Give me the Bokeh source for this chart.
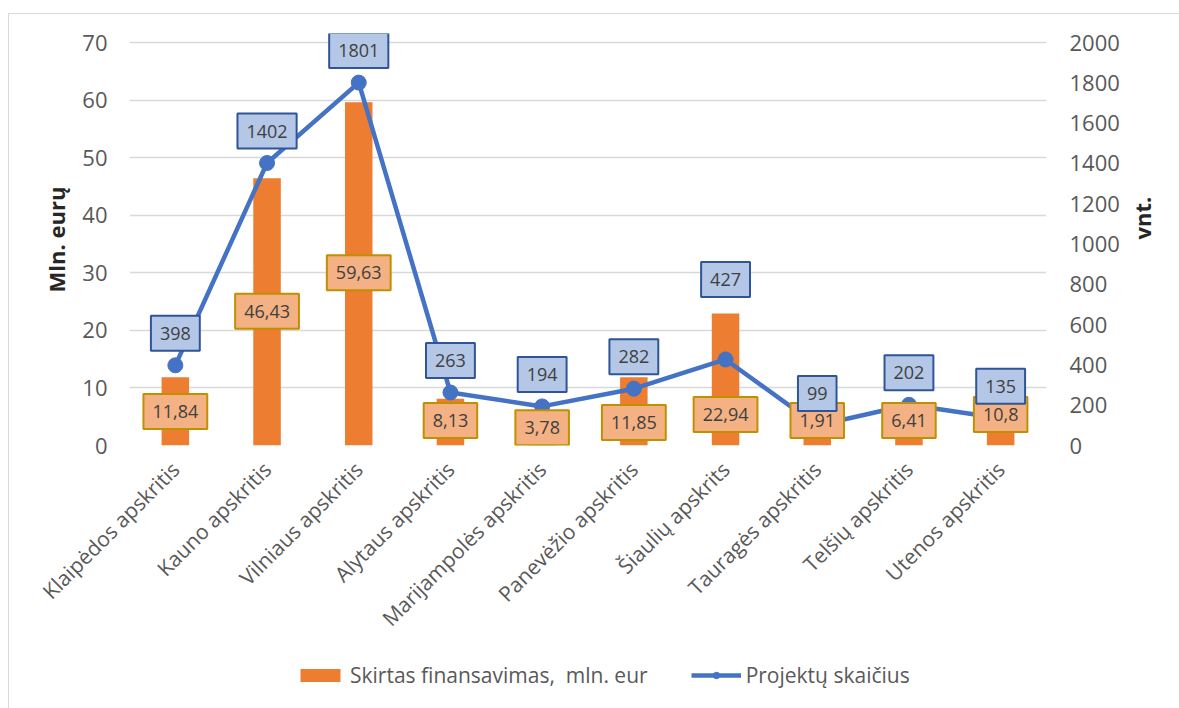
import math
from bokeh.plotting import figure
from bokeh.layouts import column
from bokeh.models import (ColumnDataSource, FactorRange, Range1d, LinearAxis, FixedTicker,
                          Legend, LegendItem)
from bokeh.core.properties import value
from bokeh.embed import file_html
from bokeh.resources import INLINE

# ---- data ----
categories = ["Klaipėdos apskritis", "Kauno apskritis", "Vilniaus apskritis",
              "Alytaus apskritis", "Marijampolės apskritis", "Panevėžio apskritis",
              "Šiaulių apskrits", "Tauragės apskritis", "Telšių apskritis",
              "Utenos apskritis"]
funding = [11.84, 46.43, 59.63, 8.13, 3.78, 11.85, 22.94, 1.91, 6.41, 10.8]
projects = [398, 1402, 1801, 263, 194, 282, 427, 99, 202, 135]

left_ticks = [0, 10, 20, 30, 40, 50, 60, 70]
right_ticks = [0, 200, 400, 600, 800, 1000, 1200, 1400, 1600, 1800, 2000]
left_max = 70
right_max = 2000

series_names = ["Skirtas finansavimas,  mln. eur", "Projektų skaičius"]

# ---- label placement (layout only) ----
fund_label_y = [5.9, 23.3, 30.0, 4.35, 3.1, 4.0, 5.4, 4.35, 4.35, 5.4]
proj_label_dy = [-32, -32, -32, -32, -32, -32, -80, -32, -32, -32]

fund_labels = [str(v).replace(".", ",") for v in funding]
proj_labels = [str(v) for v in projects]

src = ColumnDataSource(dict(cat=categories, fund=funding, proj=projects,
                            fl=fund_labels, fly=fund_label_y,
                            pl=proj_labels, pdy=proj_label_dy))

FONT = "Open Sans"
GREY = "#595959"
ORANGE = "#ED7D31"
BLUE = "#4472C4"
BORDER = "1px solid #D9D9D9"

# plot area: 402 px for the axis span, plus 9 px headroom so top labels are not clipped
AXIS_PX = 402
HEAD_PX = 9
ext = (AXIS_PX + HEAD_PX) / AXIS_PX

p = figure(x_range=FactorRange(*categories), y_range=Range1d(0, left_max * ext),
           frame_width=916, frame_height=AXIS_PX + HEAD_PX,
           output_backend="svg", toolbar_location=None,
           min_border_left=120, min_border_right=134, min_border_top=28 - HEAD_PX,
           min_border_bottom=0, margin=(13, 0, 0, 8))
p.styles = {"border-left": BORDER, "border-top": BORDER}
p.extra_y_ranges = {"right": Range1d(0, right_max * ext)}
p.outline_line_color = None
p.background_fill_color = "white"
p.border_fill_color = "white"

# grid
p.xgrid.grid_line_color = None
p.ygrid.grid_line_color = "#D9D9D9"
p.ygrid.grid_line_width = 1.5

# left axis
ya = p.yaxis[0]
ya.ticker = FixedTicker(ticks=left_ticks)
ya.axis_line_color = None
ya.major_tick_line_color = None
ya.major_tick_out = 0
ya.major_tick_in = 0
ya.minor_tick_line_color = None
ya.major_label_text_font = FONT
ya.major_label_text_font_size = "22px"
ya.major_label_text_color = GREY
ya.major_label_standoff = 22
ya.axis_label = "Mln. eurų"
ya.axis_label_text_font = FONT
ya.axis_label_text_font_size = "22px"
ya.axis_label_text_font_style = "bold"
ya.axis_label_text_color = "#262626"
ya.axis_label_standoff = 8

# right axis
ra = LinearAxis(y_range_name="right", ticker=FixedTicker(ticks=right_ticks))
ra.axis_line_color = None
ra.major_tick_line_color = None
ra.major_tick_out = 0
ra.major_tick_in = 0
ra.minor_tick_line_color = None
ra.major_label_text_font = FONT
ra.major_label_text_font_size = "22px"
ra.major_label_text_color = GREY
ra.major_label_standoff = 23
ra.axis_label = "vnt."
ra.axis_label_text_font = FONT
ra.axis_label_text_font_size = "22px"
ra.axis_label_text_font_style = "bold"
ra.axis_label_text_color = "#262626"
ra.axis_label_standoff = 19
if "axis_label_orientation" in ra.properties():
    ra.axis_label_orientation = math.pi / 2
p.add_layout(ra, "right")

# x axis
xa = p.xaxis[0]
xa.axis_line_color = None
xa.major_tick_line_color = None
xa.major_tick_out = 0
xa.major_tick_in = 0
xa.minor_tick_line_color = None
xa.major_label_orientation = math.pi / 4
xa.major_label_text_font = FONT
xa.major_label_text_font_size = "21px"
xa.major_label_text_color = GREY
xa.major_label_standoff = 20

# bars
bars = p.vbar(x="cat", top="fund", width=0.3, source=src,
              fill_color=ORANGE, line_color=None)

# line
line_r = p.line(x="cat", y="proj", source=src, y_range_name="right",
                line_color=BLUE, line_width=4.5, line_join="round")
scat_r = p.scatter(x="cat", y="proj", source=src, y_range_name="right",
                   size=15, fill_color=BLUE, line_color=BLUE)

# funding labels
p.text(x="cat", y="fly", text="fl", source=src,
       text_font=value(FONT), text_font_size="18px", text_color="#404040",
       text_align="center", text_baseline="middle",
       background_fill_color="#F4B183", border_line_color="#BF9000",
       border_line_width=2, padding=(9, 11))

# project labels
p.text(x="cat", y="proj", text="pl", source=src, y_range_name="right",
       y_offset="pdy",
       text_font=value(FONT), text_font_size="18px", text_color="#404040",
       text_align="center", text_baseline="middle",
       background_fill_color="#B4C7E7", border_line_color="#2F5597",
       border_line_width=2, padding=(9, 11))

# ---- legend strip below the chart ----
LEG_H = 74
lf = figure(width=1170, height=LEG_H, x_range=Range1d(0, 1), y_range=Range1d(0, 1),
            x_axis_type=None, y_axis_type=None,
            output_backend="svg", toolbar_location=None,
            min_border_left=0, min_border_right=0, min_border_top=0, min_border_bottom=0,
            margin=(0, 0, 0, 8))
lf.styles = {"border-left": BORDER}
lf.outline_line_color = None
lf.xgrid.grid_line_color = None
lf.ygrid.grid_line_color = None
lf.background_fill_color = "white"
lf.border_fill_color = "white"

# legend proxies: one point placed outside the strip's visible range
proxy = ColumnDataSource(dict(x=[-5], y=[-5]))
lb = lf.vbar(x="x", top="y", width=0.3, source=proxy, fill_color=ORANGE, line_color=None)
ll = lf.line(x="x", y="y", source=proxy, line_color=BLUE, line_width=4.5)
ls = lf.scatter(x="x", y="y", source=proxy, size=15, fill_color=BLUE, line_color=BLUE)

legend = Legend(items=[LegendItem(label=series_names[0], renderers=[lb], index=0),
                       LegendItem(label=series_names[1], renderers=[ll, ls], index=0)],
                orientation="horizontal", location=(166, 28),
                padding=0, margin=0, spacing=43, label_standoff=5,
                glyph_width=50, glyph_height=16,
                label_text_font=FONT, label_text_font_size="21px",
                label_text_color=GREY,
                border_line_color=None, background_fill_alpha=0)
lf.add_layout(legend)

layout = column(p, lf, spacing=0)
open("out.html", "w").write(file_html(layout, INLINE))
